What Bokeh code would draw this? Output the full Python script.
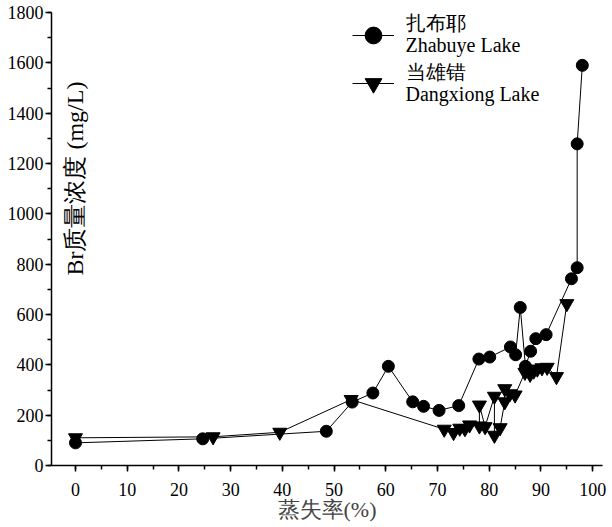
import math
from bokeh.plotting import figure
from bokeh.models import Range1d, SingleIntervalTicker, Legend, LegendItem, Label
from bokeh.embed import file_html
from bokeh.resources import INLINE

# Zhabuye Lake (circles)
zhabuye_x = [0, 24.6, 48.5, 53.5, 57.5, 60.5, 65.2, 67.3, 70.3, 74.1, 78.0, 80.1,
             84.1, 85.1, 86.0, 87.0, 88.0, 89.0, 91.0, 95.9, 97.0, 97.0, 98.0]
zhabuye_y = [90, 106, 136, 252, 288, 394, 253, 235, 219, 238, 423, 431,
             471, 440, 628, 394, 454, 504, 520, 742, 786, 1278, 1590]

# Dangxiong Lake (inverted triangles)
dangxiong_x = [0, 26.6, 39.5, 53.3, 71.3, 73.1, 74.3, 75.3, 76.2, 78.1, 78.1, 79.2,
               81.0, 81.0, 82.1, 83.0, 83.0, 84.0, 85.0, 86.9, 87.9, 88.6, 89.3,
               90.2, 91.2, 93.0, 95.0]
dangxiong_y = [110, 114, 132, 262, 144, 131, 148, 146, 161, 157, 240, 154,
               275, 120, 150, 253, 305, 285, 280, 370, 362, 375, 383,
               388, 390, 353, 643]

x_label = "蒸失率(%)"
y_label = "Br质量浓度 (mg/L)"
series_cn = ["扎布耶", "当雄错"]
series_en = ["Zhabuye Lake", "Dangxiong Lake"]

SERIF = "Liberation Serif"

p = figure(width=606, height=524, output_backend="svg", toolbar_location=None,
           x_range=Range1d(-4.64, 101.9), y_range=Range1d(0, 1800),
           min_border_left=51, min_border_right=4, min_border_top=12, min_border_bottom=50)
p.outline_line_color = None
p.grid.visible = False

p.xaxis.ticker = SingleIntervalTicker(interval=10, num_minor_ticks=2)
p.yaxis.ticker = SingleIntervalTicker(interval=200, num_minor_ticks=2)
for ax in (p.xaxis, p.yaxis):
    ax.axis_line_color = "black"
    ax.axis_line_width = 1.5
    ax.major_tick_line_color = "black"
    ax.minor_tick_line_color = "black"
    ax.major_tick_line_width = 1.5
    ax.minor_tick_line_width = 1.5
    ax.major_tick_in = 0
    ax.major_tick_out = 6
    ax.minor_tick_in = 0
    ax.minor_tick_out = 4
    ax.major_label_text_font = SERIF
    ax.major_label_text_font_size = "18px"
    ax.major_label_text_color = "black"
p.xaxis.major_label_standoff = 11
p.yaxis.major_label_standoff = 2
p.xaxis.axis_label = x_label
p.xaxis.axis_label_text_font = SERIF
p.xaxis.axis_label_text_font_size = "22px"
p.xaxis.axis_label_text_font_style = "normal"
p.xaxis.axis_label_standoff = -2

lz = p.line(zhabuye_x, zhabuye_y, line_color="black", line_width=1)
sz = p.scatter(zhabuye_x, zhabuye_y, marker="circle", size=12, fill_color="black", line_color="black")
ld = p.line(dangxiong_x, dangxiong_y, line_color="black", line_width=1)
sd = p.scatter(dangxiong_x, dangxiong_y, marker="inverted_triangle", size=14, fill_color="black", line_color="black")

p.add_layout(Label(x=-0.1, y=1140, text=y_label, angle=math.pi / 2,
                   text_align="center", text_baseline="middle",
                   text_font=SERIF, text_font_size="24px", text_color="black"))

# legend keys (line + marker); the texts are drawn as labels beside them
legend = Legend(items=[LegendItem(label=" ", renderers=[lz, sz]),
                       LegendItem(label=" ", renderers=[ld, sd])],
                location=(301, 358), orientation="vertical")
legend.background_fill_alpha = 0
legend.border_line_color = None
legend.padding = 0
legend.margin = 0
legend.spacing = 0
legend.glyph_width = 42
legend.glyph_height = 48
legend.label_standoff = 0
legend.label_text_font_size = "2px"
legend.label_height = 48
legend.label_width = 1
p.add_layout(legend)

for i in range(2):
    p.add_layout(Label(x=354, y=443 - 49 * i, x_units="screen", y_units="screen",
                       text=series_cn[i], text_align="left", text_baseline="middle",
                       text_font=SERIF, text_font_size="20px", text_color="black"))
    p.add_layout(Label(x=354, y=421 - 49 * i, x_units="screen", y_units="screen",
                       text=series_en[i], text_align="left", text_baseline="middle",
                       text_font=SERIF, text_font_size="20px", text_color="black"))

open("out.html", "w").write(file_html(p, INLINE))
